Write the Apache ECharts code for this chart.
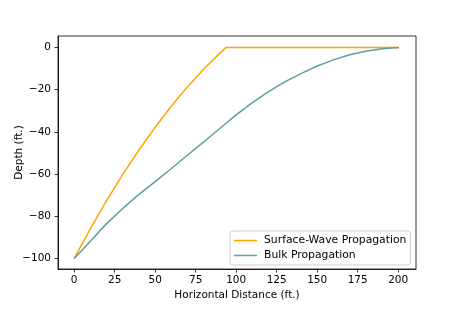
<!DOCTYPE html>
<html>
<head>
<meta charset="utf-8">
<script src="https://cdn.jsdelivr.net/npm/echarts@6/dist/echarts.min.js"></script>
<style>html,body{margin:0;padding:0;background:#fff}#c{width:463px;height:309px}</style>
</head>
<body>
<div id="c"></div>
<script>
// Surface-wave propagation path (x ft, depth ft)
const surfaceX = [0, 10, 20, 30, 40, 50, 60, 70, 80, 90, 93.8, 120, 150, 180, 200.5];
const surfaceY = [-100, -85.9, -72.6, -60.2, -48.6, -37.8, -27.8, -18.6, -10.2, -2.7, 0, 0, 0, 0, 0];
// Bulk propagation path
const bulkX = [0, 10, 20, 30, 40, 50, 60, 70, 80, 90, 100, 110, 120, 130, 140, 150, 160, 170, 180, 190, 200.5];
const bulkY = [-100, -91.8, -83.5, -76.3, -69.6, -63.6, -57.4, -51.0, -44.8, -38.3, -32.0, -26.2, -21.0, -16.3, -12.4, -8.8, -5.9, -3.5, -1.8, -0.6, 0];
const xTicks = [0, 25, 50, 75, 100, 125, 150, 175, 200];
const yTicks = [-100, -80, -60, -40, -20, 0];
const seriesNames = ['Surface-Wave Propagation', 'Bulk Propagation'];

const pair = (xs, ys) => xs.map((x, i) => [x, ys[i]]);
const fmt = v => (v < 0 ? '\u2212' + Math.abs(v) : String(v));
const font = 'DejaVu Sans';
const fs = 10.5;

const chart = echarts.init(document.getElementById('c'), null, {renderer: 'canvas'});
chart.setOption({
  animation: false,
  backgroundColor: '#fff',
  grid: {left: 58, right: 47, top: 36, bottom: 40, show: true, borderColor: '#000', borderWidth: 0.8,
         backgroundColor: 'transparent', containLabel: false, outerBoundsMode: 'none'},
  xAxis: {
    type: 'value', min: -10, max: 211,
    name: 'Horizontal Distance (ft.)', nameLocation: 'middle', nameGap: 21, nameMoveOverlap: false,
    nameTextStyle: {fontFamily: font, fontSize: fs, color: '#000'},
    axisLine: {show: true, onZero: false, lineStyle: {color: '#000', width: 0.8}},
    axisTick: {show: true, length: 3.5, inside: false, lineStyle: {color: '#000', width: 0.8}, customValues: xTicks},
    axisLabel: {fontFamily: font, fontSize: fs, color: '#000', margin: 6, customValues: xTicks, formatter: fmt},
    splitLine: {show: false}
  },
  yAxis: {
    type: 'value', min: -105, max: 5.4,
    name: 'Depth (ft.)', nameLocation: 'middle', nameGap: 33, nameMoveOverlap: false,
    nameTextStyle: {fontFamily: font, fontSize: fs, color: '#000'},
    axisLine: {show: true, onZero: false, lineStyle: {color: '#000', width: 0.8}},
    axisTick: {show: true, length: 3.5, inside: false, lineStyle: {color: '#000', width: 0.8}, customValues: yTicks},
    axisLabel: {fontFamily: font, fontSize: fs, color: '#000', margin: 7, customValues: yTicks, formatter: fmt},
    splitLine: {show: false}
  },
  legend: {
    orient: 'vertical', left: 230, top: 231,
    data: seriesNames,
    backgroundColor: 'rgba(255,255,255,0.8)', borderColor: '#ccc', borderWidth: 1, borderRadius: 3,
    padding: [4, 4, 4, 4],
    itemWidth: 23, itemHeight: 1.5, itemGap: 4,
    icon: 'rect',
    textStyle: {fontFamily: font, fontSize: 10.8, color: '#000', padding: [0, 0, 0, 2]}
  },
  series: [
    {name: seriesNames[0], type: 'line', data: pair(surfaceX, surfaceY), showSymbol: false,
     color: '#FFA500', lineStyle: {width: 1.5, color: '#FFA500'}},
    {name: seriesNames[1], type: 'line', data: pair(bulkX, bulkY), showSymbol: false,
     color: '#5F9EA0', lineStyle: {width: 1.5, color: '#5F9EA0'}}
  ]
});
</script>
</body>
</html>
